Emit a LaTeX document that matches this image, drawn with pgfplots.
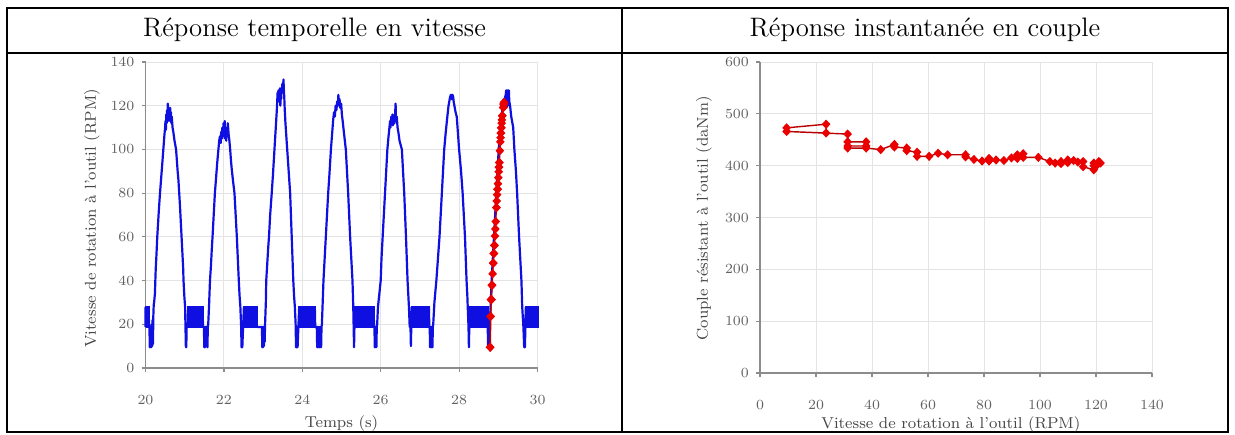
\documentclass[border=0pt]{standalone}
\usepackage{pgfplots}
\pgfplotsset{compat=1.18}
\usepackage{pgfplotstable}
\definecolor{sigblue}{RGB}{15,15,225}
\definecolor{mkred}{RGB}{235,0,0}
\definecolor{lnred}{RGB}{185,0,0}
\definecolor{axgray}{RGB}{140,140,140}
\definecolor{gridgray}{RGB}{228,228,228}
\definecolor{tickgray}{RGB}{95,95,95}
\definecolor{labgray}{RGB}{70,70,70}

\pgfplotstableread{
t v T
28.790 9.5 473
28.800 23.6 480
28.805 23.6 463
28.795 9.5 466
28.815 31.3 461
28.818 31.3 446
28.835 37.9 446
28.838 37.9 438
28.822 31.3 438
28.825 31.3 434
28.842 37.9 434
28.855 43.1 431
28.870 48.0 441
28.873 48.0 436
28.885 52.4 434
28.888 52.4 429
28.900 56.1 426
28.903 56.1 418
28.915 60.4 418
28.925 63.6 424
28.935 67.0 421
28.950 73.4 421
28.953 73.4 417
28.960 76.4 412
28.970 79.3 409
28.980 81.8 414
28.983 81.8 409
28.990 84.3 411
29.000 87.1 410
29.010 89.8 415
29.015 91.9 421
29.018 91.9 414
29.024 94.0 423
29.027 94.0 416
29.040 99.4 416
29.052 103.5 408
29.058 105.4 405
29.065 107.5 404
29.068 107.5 408
29.075 109.9 411
29.078 109.9 406
29.085 112.0 410
29.092 113.5 407
29.100 115.4 408
29.103 115.4 398
29.125 119.2 392
29.128 119.2 400
29.131 119.2 405
29.140 121.0 408
29.135 120.5 402
29.145 121.6 405
}\redpts

\pgfplotsset{
  tabax/.style={
    scale only axis, width=196pt, clip=false,
    axis lines=left, axis line style={-, draw=axgray, line width=0.7pt},
    grid=major, grid style={draw=gridgray, line width=0.5pt},
    tick align=outside, major tick length=2pt,
    tick style={draw=axgray, line width=0.6pt},
    tick label style={font=\fontsize{7}{8}\selectfont, text=tickgray},
    xticklabel style={yshift=-8pt},
    every axis x label/.style={anchor=center, font=\fontsize{7.9}{9}\selectfont, text=labgray},
    every axis y label/.style={anchor=center, rotate=90, font=\fontsize{7.9}{9}\selectfont, text=labgray},
  },
  blk/.style={draw=sigblue, fill=sigblue, line width=1pt},
  redser/.style={lnred, line width=0.7pt, mark=diamond*, mark size=1.8pt,
    mark options={fill=mkred, draw=mkred, xscale=1.25}},
}

\begin{document}
\begin{tikzpicture}
\path[use as bounding box] (0pt,0pt) rectangle (617.5pt,217pt);
% table
\draw[line width=1pt] (3.5pt,1.25pt) rectangle (614pt,213pt);
\draw[line width=1pt] (3.5pt,190.65pt) -- (614pt,190.65pt);
\draw[line width=1pt] (310.75pt,1.25pt) -- (310.75pt,213pt);
\node[anchor=base, font=\fontsize{13.35}{16}\selectfont] at (157.25pt,198.5pt) {Réponse temporelle en vitesse};
\node[anchor=base, font=\fontsize{13.35}{16}\selectfont] at (462.5pt,198.5pt) {Réponse instantanée en couple};

\begin{axis}[tabax, at={(72.75pt,33pt)}, anchor=south west, height=153pt,
  xmin=20, xmax=30, ymin=0, ymax=140,
  xtick={20,22,...,30}, ytick={0,20,...,140},
  xlabel={Temps (s)}, ylabel={Vitesse de rotation à l'outil (RPM)},
  xlabel style={at={(axis description cs:0.5,-0.18)}},
  ylabel style={at={(axis description cs:-0.137,0.489)}},
]
% solid blocks where the signal oscillates quickly between 19 and 28 RPM
\addplot[blk] coordinates {(20.00,18.8)(20.00,27.7)(20.09,27.7)(20.09,18.8)(20.00,18.8)};
\addplot[blk] coordinates {(21.09,18.8)(21.09,27.7)(21.47,27.7)(21.47,18.8)(21.09,18.8)};
\addplot[blk] coordinates {(22.51,18.8)(22.51,27.7)(22.84,27.7)(22.84,18.8)(22.51,18.8)};
\addplot[blk] coordinates {(23.92,18.8)(23.92,27.7)(24.33,27.7)(24.33,18.8)(23.92,18.8)};
\addplot[blk] coordinates {(25.34,18.8)(25.34,27.7)(25.83,27.7)(25.83,18.8)(25.34,18.8)};
\addplot[blk] coordinates {(26.79,18.8)(26.79,27.7)(27.24,27.7)(27.24,18.8)(26.79,18.8)};
\addplot[blk] coordinates {(28.28,18.8)(28.28,27.7)(28.73,27.7)(28.73,18.8)(28.28,18.8)};
\addplot[blk] coordinates {(29.70,18.8)(29.70,27.7)(30.00,27.7)(30.00,18.8)(29.70,18.8)};
\addplot[sigblue, line width=1.1pt, line join=round] coordinates {
(20.00,18.8)(20.00,27.7)(20.02,18.8)(20.04,27.7)(20.06,18.8)(20.08,27.7)(20.09,18.8)
(20.10,18.8)(20.11,9.5)(20.12,19)(20.13,9.5)(20.14,18.8)(20.15,9.5)(20.16,20)(20.17,10)(20.18,22)(20.19,11)(20.20,24)
(20.21,29)(20.22,30)(20.24,34)(20.26,45)(20.28,52)(20.30,60)(20.32,66)(20.34,72)(20.37,80)(20.40,87)(20.43,94)(20.455,100)(20.48,106)(20.50,110)
(20.51,113)(20.52,109)(20.53,116)(20.54,112)(20.55,118)(20.56,114)(20.57,121)(20.58,116)(20.59,119)(20.60,113)(20.61,118)(20.62,115)(20.63,119)(20.64,114)(20.65,117)(20.66,112)(20.67,115)(20.69,110)(20.71,108)
(20.74,104)(20.78,100)(20.80,95)(20.82,90)(20.84,86)(20.86,80)(20.88,74)(20.90,67)(20.92,60)(20.94,53)(20.96,46)(20.97,40)(20.99,33)(21.01,28)(21.02,18.8)(21.03,9.5)
(21.04,9.5)(21.05,18.8)(21.08,18.8)
(21.09,27.7)(21.11,18.8)(21.13,27.7)(21.15,18.8)(21.17,27.7)(21.19,18.8)(21.21,27.7)(21.23,18.8)(21.25,27.7)(21.27,18.8)(21.29,27.7)(21.31,18.8)(21.33,27.7)(21.35,18.8)(21.37,27.7)(21.39,18.8)(21.41,27.7)(21.43,18.8)(21.45,27.7)(21.47,18.8)
(21.49,18.8)(21.50,9.5)(21.51,18.8)(21.52,9.5)(21.53,18.8)(21.54,10)(21.55,18.8)(21.57,18.8)(21.58,9.5)(21.59,18.8)(21.60,20)
(21.62,28)(21.645,40)(21.67,47)(21.69,54)(21.71,60)(21.74,70)(21.77,80)(21.80,87)(21.83,94)(21.86,100)(21.88,104)(21.90,106)
(21.92,103)(21.93,108)(21.95,105)(21.96,110)(21.98,106)(21.99,112)(22.00,107)(22.02,113)(22.03,105)(22.04,109)(22.06,104)(22.07,110)(22.09,106)(22.10,112)(22.12,107)(22.14,104)(22.16,100)
(22.18,95)(22.20,91)(22.23,86)(22.27,80)(22.30,70)(22.33,60)(22.355,50)(22.38,40)(22.40,33)(22.42,28)(22.44,18.8)(22.45,9.5)
(22.47,9.5)(22.49,18.8)
(22.51,27.7)(22.53,18.8)(22.55,27.7)(22.57,18.8)(22.59,27.7)(22.61,18.8)(22.63,27.7)(22.65,18.8)(22.67,27.7)(22.69,18.8)(22.71,27.7)(22.73,18.8)(22.75,27.7)(22.77,18.8)(22.79,27.7)(22.81,18.8)(22.83,27.7)(22.84,18.8)
(22.97,18.8)(22.98,9.5)(22.99,18.8)(23.00,9.5)(23.01,18.8)(23.02,10)(23.03,18.8)(23.04,12)(23.05,20)
(23.07,30)(23.08,40)(23.10,46)(23.13,55)(23.15,60)(23.18,70)(23.22,80)(23.25,88)(23.29,100)(23.31,106)(23.33,112)(23.35,118)
(23.36,122)(23.37,126)(23.38,123)(23.39,127)(23.40,122)(23.41,126)(23.42,124)(23.43,128)(23.44,120)(23.45,125)(23.46,123)(23.47,128)(23.48,126)(23.49,130)(23.50,126)(23.51,129)(23.52,132)(23.53,127)(23.54,124)(23.55,119)
(23.57,112)(23.60,104)(23.63,96)(23.66,88)(23.69,80)(23.71,70)(23.73,60)(23.75,50)(23.77,40)(23.79,33)(23.81,28)(23.83,20)(23.84,9.5)(23.86,9.5)(23.87,18.8)(23.88,9.5)(23.90,18.8)
(23.92,27.7)(23.94,18.8)(23.96,27.7)(23.98,18.8)(24.00,27.7)(24.02,18.8)(24.04,27.7)(24.06,18.8)(24.08,27.7)(24.10,18.8)(24.12,27.7)(24.14,18.8)(24.16,27.7)(24.18,18.8)(24.20,27.7)(24.22,18.8)(24.24,27.7)(24.26,18.8)(24.28,27.7)(24.30,18.8)(24.32,27.7)(24.33,18.8)
(24.37,18.8)(24.38,9.5)(24.39,18.8)(24.40,9.5)(24.41,18.8)(24.43,9.5)(24.44,18.8)(24.46,9.5)(24.47,18.8)(24.48,9.5)(24.49,18.8)(24.50,20)
(24.52,30)(24.54,40)(24.57,50)(24.60,60)(24.63,70)(24.66,80)(24.69,88)(24.73,100)(24.76,107)(24.79,114)(24.81,117)
(24.83,115)(24.85,120)(24.87,118)(24.89,122)(24.91,120)(24.92,125)(24.93,121)(24.95,123)(24.97,119)(24.99,121)(25.01,116)(25.03,113)
(25.06,108)(25.11,100)(25.14,90)(25.17,80)(25.20,68)(25.22,60)(25.25,50)(25.28,40)(25.30,28)(25.31,18.8)(25.32,9.5)(25.33,18.8)
(25.34,27.7)(25.36,18.8)(25.38,27.7)(25.40,18.8)(25.42,27.7)(25.44,18.8)(25.46,27.7)(25.48,18.8)(25.50,27.7)(25.52,18.8)(25.54,27.7)(25.56,18.8)(25.58,27.7)(25.60,18.8)(25.62,27.7)(25.64,18.8)(25.66,27.7)(25.68,18.8)(25.70,27.7)(25.72,18.8)(25.74,27.7)(25.76,18.8)(25.78,27.7)(25.80,18.8)(25.82,27.7)(25.83,18.8)
(25.84,18.8)(25.85,9.5)(25.86,18.8)(25.87,9.5)(25.88,18.8)(25.89,9.5)(25.90,18.8)(25.91,20)
(25.93,28)(25.96,33)(26.00,40)(26.02,50)(26.05,60)(26.08,70)(26.11,80)(26.14,90)(26.17,100)(26.20,106)(26.24,113)
(26.25,110)(26.27,115)(26.28,112)(26.30,116)(26.31,111)(26.33,114)(26.35,112)(26.37,117)(26.38,121)(26.39,113)(26.41,115)(26.43,110)(26.45,108)
(26.48,104)(26.54,100)(26.57,90)(26.60,80)(26.645,60)(26.685,40)(26.72,28)(26.74,18.8)(26.76,18.8)(26.77,10)(26.78,18.8)
(26.79,27.7)(26.81,18.8)(26.83,27.7)(26.85,18.8)(26.87,27.7)(26.89,18.8)(26.91,27.7)(26.93,18.8)(26.95,27.7)(26.97,18.8)(26.99,27.7)(27.01,18.8)(27.03,27.7)(27.05,18.8)(27.07,27.7)(27.09,18.8)(27.11,27.7)(27.13,18.8)(27.15,27.7)(27.17,18.8)(27.19,27.7)(27.21,18.8)(27.23,27.7)(27.24,18.8)
(27.25,18.8)(27.26,9.5)(27.27,18.8)(27.28,9.5)(27.29,18.8)(27.30,9.5)(27.31,18.8)(27.32,9.5)(27.33,18.8)(27.34,20)
(27.37,30)(27.42,40)(27.46,50)(27.50,60)(27.53,70)(27.56,80)(27.59,90)(27.62,100)(27.66,108)(27.70,115)(27.73,120)
(27.75,122)(27.77,124)(27.79,125)(27.81,123)(27.83,125)(27.85,124)(27.86,122)(27.88,120)(27.91,117)
(27.94,115)(28.00,100)(28.05,90)(28.09,80)(28.12,70)(28.15,60)(28.17,50)(28.19,40)(28.21,33)(28.22,28)(28.24,18.8)(28.25,9.5)(28.26,18.8)
(28.28,27.7)(28.30,18.8)(28.32,27.7)(28.34,18.8)(28.36,27.7)(28.38,18.8)(28.40,27.7)(28.42,18.8)(28.44,27.7)(28.46,18.8)(28.48,27.7)(28.50,18.8)(28.52,27.7)(28.54,18.8)(28.56,27.7)(28.58,18.8)(28.60,27.7)(28.62,18.8)(28.64,27.7)(28.66,18.8)(28.68,27.7)(28.70,18.8)(28.72,27.7)(28.73,18.8)
(28.74,9.5)(28.76,9.5)(28.77,18.8)
(28.79,23)(28.81,31)(28.83,40)(28.86,50)(28.89,60)(28.92,70)(28.95,80)(28.98,90)(29.01,100)(29.04,108)(29.08,115)(29.12,120)(29.16,123)(29.19,125)
(29.20,127)(29.22,127)(29.22,120)(29.24,120)(29.24,127)(29.27,127)(29.28,122)(29.30,120)(29.33,115)
(29.38,110)(29.41,100)(29.45,90)(29.48,80)(29.505,70)(29.53,60)(29.56,50)(29.59,40)(29.61,28)(29.64,18.8)(29.66,9.5)(29.68,9.5)(29.69,18.8)
(29.70,27.7)(29.72,18.8)(29.74,27.7)(29.76,18.8)(29.78,27.7)(29.80,18.8)(29.82,27.7)(29.84,18.8)(29.86,27.7)(29.88,18.8)(29.90,27.7)(29.92,18.8)(29.94,27.7)(29.96,18.8)(29.98,27.7)(30.00,18.8)(30.00,27.7)
};
\addplot[redser] table[x=t, y=v] {\redpts};
\end{axis}

\begin{axis}[tabax, at={(380pt,30.5pt)}, anchor=south west, height=155.5pt,
  xmin=0, xmax=140, ymin=0, ymax=600,
  xtick={0,20,...,140}, ytick={0,100,...,600},
  xlabel={Vitesse de rotation à l'outil (RPM)}, ylabel={Couple résistant à l'outil (daNm)},
  xlabel style={at={(axis description cs:0.487,-0.167)}},
  ylabel style={at={(axis description cs:-0.143,0.498)}},
]
\addplot[redser] table[x=v, y=T] {\redpts};
\end{axis}
\end{tikzpicture}
\end{document}
